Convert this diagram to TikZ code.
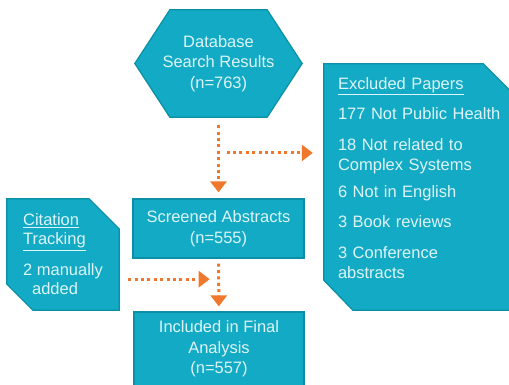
\documentclass[tikz,border=0pt]{standalone}
\usepackage{fontspec}
\setmainfont{Liberation Sans}
\usetikzlibrary{arrows.meta,backgrounds,calc}
\definecolor{boxfill}{HTML}{12AAC4}
\definecolor{boxline}{HTML}{0B8FA6}
\definecolor{boxtext}{HTML}{DDF5F8}
\definecolor{dotorange}{HTML}{F0772B}
\tikzset{
  txt/.style={text=boxtext,font=\fontsize{16.5}{20.5}\selectfont,align=center,inner sep=0pt},
  box/.style={txt,draw=boxline,fill=boxfill,line width=1.2pt},
  panel/.style={draw=boxline,fill=boxfill,line width=1.2pt,line join=miter},
  flow/.style={color=dotorange,line width=3pt,dash pattern=on 3pt off 3.4pt,-{Triangle[width=16pt,length=11pt]}},
}
\begin{document}
\begin{tikzpicture}[x=1pt,y=-1pt]
  \useasboundingbox (0,0) rectangle (509,385);
  \node[txt,minimum width=167pt,minimum height=107pt] (db) at (218.5,63.5) {Database\\Search Results\\(n=763)};
  \node[box,minimum width=171pt,minimum height=59pt] (scr) at (218.5,228.5) {Screened Abstracts\\(n=555)};
  \node[box,minimum width=170pt,minimum height=74pt] (fin) at (219,349) {Included in Final\\Analysis\\(n=557)};
  \node[txt,align=left,font=\fontsize{16.5}{19}\selectfont,minimum width=112pt,minimum height=111pt] (cite) at (63,254.5)
    {\underline{Citation}\\\underline{Tracking}\\[12pt]2 manually\\\hspace*{9pt}added};
  \node[txt,align=left,text width=170pt,minimum height=228pt,inner xsep=14pt] (excl) at (423,178)
    {\underline{Excluded Papers}\\[10pt]177 Not Public Health\\[10pt]18 Not related to\\Complex Systems\\[6pt]6 Not in English\\[10pt]3 Book reviews\\[10pt]3 Conference\\abstracts};
  \begin{scope}[on background layer]
    \path[panel] (db.west) -- ([xshift=35pt]db.north west) -- ([xshift=-35pt]db.north east) -- (db.east)
      -- ([xshift=-35pt]db.south east) -- ([xshift=35pt]db.south west) -- cycle;
    \path[panel] (cite.north west) -- ([xshift=-30pt]cite.north east) -- ([yshift=-30pt]cite.north east)
      -- (cite.south east) -- ([xshift=26pt]cite.south west) -- ([yshift=26pt]cite.south west) -- cycle;
    \path[panel] (excl.north west) -- ([xshift=-39pt]excl.north east) -- ([yshift=-39pt]excl.north east)
      -- ([yshift=-18pt]excl.south east) -- ([shift={(29pt,-18pt)}]excl.south west) -- ([yshift=12pt]excl.south west) -- cycle;
  \end{scope}
  \coordinate (split) at ($(db.south)!0.44!(scr.north)$);
  \coordinate (join) at ($(scr.south)!0.39!(fin.north)$);
  \path[flow]
    (db) edge[shorten <=8pt,shorten >=6pt] (scr)
    ([xshift=8pt]split) edge[shorten >=11pt] (split -| excl.west)
    (scr) edge[shorten <=5pt,shorten >=5pt] (fin)
    (cite.east |- join) edge[shorten <=9pt,shorten >=9pt] (join);
\end{tikzpicture}
\end{document}
